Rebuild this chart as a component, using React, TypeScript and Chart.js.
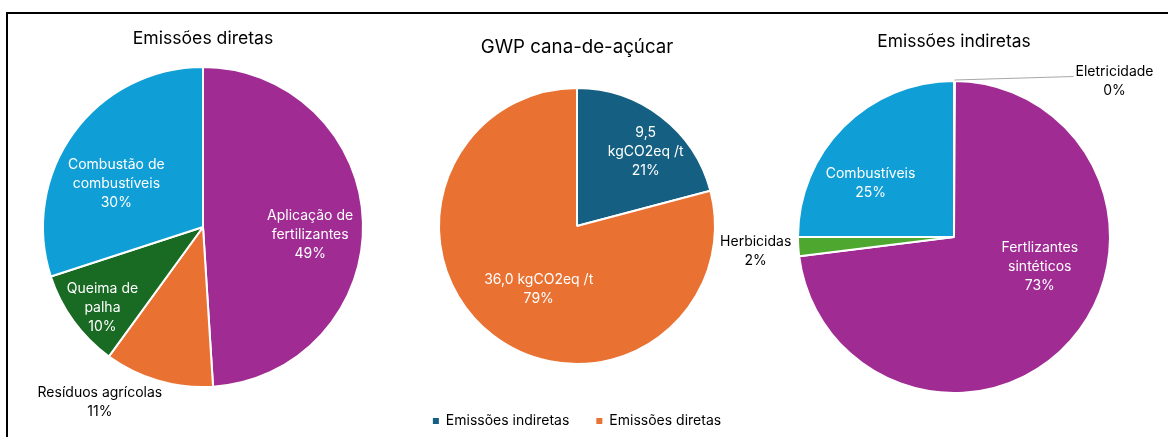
import React, { useEffect, useRef } from "react";
import { Chart, registerables } from "chart.js";

Chart.register(...registerables);

// ---------- data ----------
const directCategories = ["Aplicação de fertilizantes", "Resíduos agrícolas", "Queima de palha", "Combustão de combustíveis"];
const directValues = [49, 11, 10, 30];

const gwpCategories = ["Emissões indiretas", "Emissões diretas"];
const gwpValues = [9.5, 36.0];
const gwpUnit = "kgCO2eq /t";

const indirectCategories = ["Eletricidade", "Fertlizantes sintéticos", "Herbicidas", "Combustíveis"];
const indirectValues = [0.1, 73, 2, 25];

const chartTitles = ["Emissões diretas", "GWP cana-de-açúcar", "Emissões indiretas"];

// ---------- styles ----------
const FONT = "Inter, 'Open Sans', 'Noto Sans', sans-serif";
const W = 1168;
const H = 437;
const directColors = ["#A02B93", "#E97132", "#196B24", "#0F9ED5"];
const gwpColors = ["#156082", "#E97132"];
const indirectColors = ["#156082", "#A02B93", "#4EA72E", "#0F9ED5"];

type Place = { frac: number; dx: number; dy: number; wrap: number; color: string; leader?: boolean };

const directPlace: Place[] = [
  { frac: 0.67, dx: 0, dy: 11, wrap: 100, color: "#fff" },
  { frac: 1.1, dx: -54, dy: 6, wrap: 200, color: "#000" },
  { frac: 0.8, dx: 3, dy: 6, wrap: 90, color: "#fff" },
  { frac: 0.6, dx: -9, dy: 13, wrap: 105, color: "#fff" },
];
const gwpPlace: Place[] = [
  { frac: 0.65, dx: 14, dy: -3, wrap: 90, color: "#fff" },
  { frac: 0.55, dx: 8, dy: 3, wrap: 150, color: "#fff" },
];
const indirectPlace: Place[] = [
  { frac: 1.0, dx: 160, dy: 0, wrap: 200, color: "#000", leader: true },
  { frac: 0.65, dx: 10, dy: -38, wrap: 100, color: "#fff" },
  { frac: 1.1, dx: -27, dy: 4, wrap: 200, color: "#000" },
  { frac: 0.63, dx: -14, dy: 16, wrap: 150, color: "#fff" },
];

const LABEL_SIZE = 14;
const LINE_H = 19;

function wrapTokens(ctx: CanvasRenderingContext2D, tokens: string[], maxW: number): string[] {
  const lines: string[] = [];
  let cur = "";
  for (const w of tokens) {
    const t = cur ? cur + " " + w : w;
    if (cur && ctx.measureText(t).width > maxW) {
      lines.push(cur);
      cur = w;
    } else cur = t;
  }
  if (cur) lines.push(cur);
  return lines;
}

const sliceLabels = {
  id: "sliceLabels",
  afterDatasetsDraw(chart: any, _args: any, opts: any) {
    const { ctx } = chart;
    const meta = chart.getDatasetMeta(0);
    const vals = chart.data.datasets[0].data as number[];
    const cats = chart.data.labels as string[];
    const total = vals.reduce((a, b) => a + b, 0);
    const place: Place[] = opts.place;
    ctx.save();
    ctx.font = `${LABEL_SIZE}px ${FONT}`;
    ctx.textAlign = "center";
    ctx.textBaseline = "middle";
    meta.data.forEach((arc: any, i: number) => {
      const p = place[i];
      const { x, y, startAngle, endAngle, outerRadius } = arc.getProps(["x", "y", "startAngle", "endAngle", "outerRadius"], true);
      const mid = (startAngle + endAngle) / 2;
      const lx = x + Math.cos(mid) * outerRadius * p.frac + p.dx;
      const ly = y + Math.sin(mid) * outerRadius * p.frac + p.dy;
      const tokens =
        opts.mode === "value" ? [vals[i].toFixed(1).replace(".", ","), gwpUnit] : cats[i].split(" ");
      const lines = [...wrapTokens(ctx, tokens, p.wrap), Math.round((vals[i] / total) * 100) + "%"];
      const top = ly - ((lines.length - 1) * LINE_H) / 2;
      if (p.leader) {
        const w0 = ctx.measureText(lines[0]).width;
        ctx.strokeStyle = "#A6A6A6";
        ctx.lineWidth = 1;
        ctx.beginPath();
        ctx.moveTo(x + Math.cos(mid) * outerRadius, y + Math.sin(mid) * outerRadius - 1);
        ctx.lineTo(lx - w0 / 2 - 2, top + 5);
        ctx.stroke();
      }
      ctx.fillStyle = p.color;
      lines.forEach((ln, k) => ctx.fillText(ln, lx, top + k * LINE_H));
    });
    ctx.restore();
  },
};

type Cfg = {
  labels: string[];
  values: number[];
  colors: string[];
  title: string;
  titleSize: number;
  titlePad: { top: number; bottom: number };
  padding: { top: number; bottom: number; left: number; right: number };
  radius: number;
  place: Place[];
  mode: string;
  legend: boolean;
  height: number;
};

function PieCanvas({ cfg }: { cfg: Cfg }) {
  const ref = useRef<HTMLCanvasElement>(null);
  useEffect(() => {
    if (!ref.current) return;
    Chart.defaults.font.family = FONT;
    const chart = new Chart(ref.current, {
      type: "pie",
      data: {
        labels: cfg.labels,
        datasets: [
          {
            data: cfg.values,
            backgroundColor: cfg.colors,
            borderColor: "#ffffff",
            borderWidth: 2,
          },
        ],
      },
      options: {
        responsive: false,
        animation: false,
        events: [],
        devicePixelRatio: 1,
        radius: cfg.radius,
        layout: { padding: cfg.padding },
        plugins: {
          title: {
            display: true,
            text: cfg.title,
            color: "#000",
            font: { size: cfg.titleSize, weight: "normal", family: FONT },
            padding: cfg.titlePad,
          },
          legend: {
            display: cfg.legend,
            position: "bottom",
            labels: {
              boxWidth: 6,
              boxHeight: 6,
              padding: 27,
              color: "#000",
              font: { size: 14, family: FONT },
              generateLabels: (c: any) =>
                (Chart as any).overrides.pie.plugins.legend.labels
                  .generateLabels(c)
                  .map((l: any) => ({ ...l, lineWidth: 0 })),
            },
          },
          tooltip: { enabled: false },
          sliceLabels: { place: cfg.place, mode: cfg.mode },
        } as any,
      } as any,
      plugins: [sliceLabels],
    });
    return () => chart.destroy();
  }, []);
  return (
    <canvas
      ref={ref}
      width={W}
      height={cfg.height}
      style={{ position: "absolute", left: 0, top: 0, width: W, height: cfg.height }}
    />
  );
}

const cfgs: Cfg[] = [
  {
    labels: directCategories,
    values: directValues,
    colors: directColors,
    title: chartTitles[0],
    titleSize: 17.6,
    titlePad: { top: 0, bottom: 0 },
    padding: { top: 28.44, bottom: 32.56, left: 33, right: 795 },
    radius: 160,
    place: directPlace,
    mode: "category",
    legend: false,
    height: H,
  },
  {
    labels: gwpCategories,
    values: gwpValues,
    colors: gwpColors,
    title: chartTitles[1],
    titleSize: 18.7,
    titlePad: { top: 0, bottom: 6.78 },
    padding: { top: 35.78, bottom: 22, left: 327, right: 341 },
    radius: 138,
    place: gwpPlace,
    mode: "value",
    legend: true,
    height: 460,
  },
  {
    labels: indirectCategories,
    values: indirectValues,
    colors: indirectColors,
    title: chartTitles[2],
    titleSize: 17.4,
    titlePad: { top: 0, bottom: 0 },
    padding: { top: 31.56, bottom: 15.44, left: 794, right: 54 },
    radius: 156,
    place: indirectPlace,
    mode: "category",
    legend: false,
    height: H,
  },
];

export default function App() {
  return (
    <div
      style={{
        position: "fixed",
        left: 0,
        top: 0,
        width: W,
        height: H,
        overflow: "hidden",
        background: "#fff",
      }}
    >
      <div
        style={{
          position: "absolute",
          left: 6,
          top: 12,
          width: W,
          height: H,
          borderTop: "2px solid #000",
          borderLeft: "2px solid #000",
        }}
      />
      {cfgs.map((c, i) => (
        <PieCanvas key={i} cfg={c} />
      ))}
    </div>
  );
}
